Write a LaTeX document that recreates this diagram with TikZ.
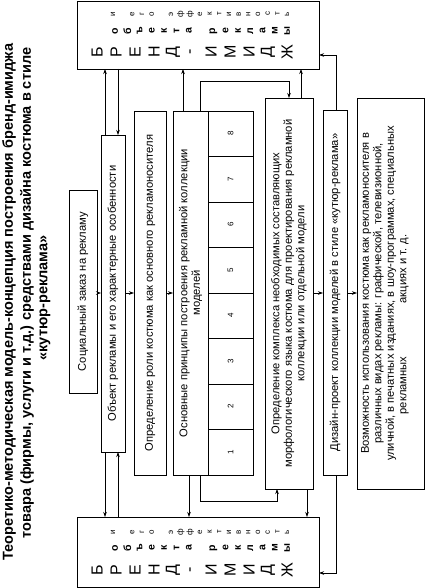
\documentclass[tikz,border=0pt]{standalone}
\usepackage{fontspec}
\setmainfont{Liberation Sans}
\usetikzlibrary{arrows.meta}
\begin{document}
\begin{tikzpicture}[x=1pt,y=-1pt,
  box/.style={draw, line width=0.6pt, inner sep=0pt, outer sep=0pt},
  txt/.style={rotate=90, font=\fontsize{11.2}{12.5}\selectfont, inner sep=0pt, align=center},
  ttl/.style={rotate=90, font=\fontsize{14.5}{17}\selectfont\bfseries, inner sep=0pt},
  bigl/.style={rotate=90, font=\fontsize{16}{17}\selectfont, inner sep=0pt},
  midl/.style={rotate=90, font=\fontsize{10.5}{11}\selectfont\bfseries, inner sep=0pt},
  smll/.style={rotate=90, font=\fontsize{8}{9}\selectfont, inner sep=0pt},
  numl/.style={rotate=90, font=\fontsize{8}{9}\selectfont, inner sep=0pt},
  arr/.style={-{Stealth[length=5pt,width=3.5pt]}, line width=0.6pt}]
\useasboundingbox (0,0) rectangle (425,588);

% title
\node[ttl] (t1) at (9,302) {Теоретико-методическая модель-концепция построения бренд-имиджа};
\node[ttl] (t2) at (27,293) {товара (фирмы, услуги и т.д.) средствами дизайна костюма в стиле};
\node[ttl] (t3) at (45,298) {«кутюр-реклама»};

% brand boxes
\node[box, minimum width=242pt, minimum height=68pt] (brandT) at (198,35) {};
\node[box, minimum width=242pt, minimum height=70pt] (brandB) at (198,552) {};
\foreach \l [count=\i from 0] in {Б,Р,Е,Н,Д,-,И,М,И,Д,Ж} {
  \node[bigl] (bT\i) at (97+19*\i,52) {\l};
  \node[bigl] (bB\i) at (97+19*\i,570) {\l};
}
\foreach \l/\k in {о/0,б/1,ъ/2,е/3,к/4,т/5,а/6,р/8,е/9,к/10,л/11,а/12,м/13,ы/14} {
  \node[midl] (mT\k) at (115+12.3*\k,31) {\l};
  \node[midl] (mB\k) at (115+12.3*\k,548) {\l};
}
\foreach \l/\k in {и/0,е/2,г/3,о/4,э/6,ф/7,ф/8,е/9,к/10,т/11,и/12,в/13,н/14,о/15,с/16,т/17,ь/18} {
  \node[smll] (sT\k) at (113+9.67*\k,14) {\l};
  \node[smll] (sB\k) at (113+9.67*\k,532) {\l};
}

% process boxes
\node[box, minimum width=28pt, minimum height=203pt] (soc) at (83,291.5) {};
\node[txt] (socT) at (soc.center) {Социальный заказ на рекламу};
\node[box, minimum width=24pt, minimum height=317pt] (obj) at (113,293.5) {};
\node[txt] (objT) at (obj.center) {Объект рекламы и его характерные особенности};
\node[box, minimum width=32pt, minimum height=364pt] (rol) at (150,293) {};
\node[txt] (rolT) at (rol.center) {Определение роли костюма как основного рекламоносителя};
\node[box, minimum width=35pt, minimum height=364pt] (osn) at (190.5,293) {};
\node[txt] (osnT) at (osn.center) {Основные принципы построения рекламной коллекции\\моделей};
\foreach \i in {1,...,8} {
  \node[box, minimum width=45pt, minimum height=45.5pt] (c\i) at (230.5,475-45.5*\i+22.75) {};
  \node[numl] (n\i) at (c\i.center) {\i};
}
\node[box, minimum width=48pt, minimum height=391pt] (kom) at (289,293.5) {};
\node[txt] (komT) at (kom.center) {Определение комплекса необходимых составляющих\\морфологического языка костюма для проектирования рекламной\\коллекции или отдельной модели};
\node[box, minimum width=24pt, minimum height=365pt] (diz) at (335,292.5) {};
\node[txt] (dizT) at (diz.center) {Дизайн-проект коллекции моделей в стиле «кутюр-реклама»};
\node[box, minimum width=67pt, minimum height=391pt] (voz) at (390.5,293.5) {};
\node[txt] (vozT) at (385,293.5) {Возможность использования костюма как рекламоносителя в\\различных видах рекламы: графической, телевизионной,\\уличной, в печатных изданиях, в шоу-программах, специальных\\рекламных\hspace{50pt} акциях и т. д.\hspace*{62pt}};

% helper coordinates
\coordinate (xa) at (105,0);
\coordinate (xb) at (118,0);
\coordinate (xc) at (183,0);
\coordinate (xc2) at (189,0);
\coordinate (xd) at (200,0);
\coordinate (xe) at (289,0);
\coordinate (xe2) at (277,0);
\coordinate (xf) at (301,0);
\coordinate (xf2) at (307,0);
\coordinate (xg) at (336,0);
\coordinate (ytop) at (0,81);
\coordinate (ybot) at (0,501);
\coordinate (yd1) at (0,55);
\coordinate (yd2) at (0,573);
\coordinate (yf) at (0,293);

% connectors
\draw[arr] (obj.north -| xa) -- (brandT.south -| xa);
\draw[arr] (brandT.south -| xb) -- (obj.north -| xb);
\draw[arr] (obj.south -| xa) -- (brandB.north -| xa);
\draw[arr] (brandB.north -| xb) -- (obj.south -| xb);
\draw[arr] (osn.north -| xc) -- (brandT.south -| xc);
\draw[arr] (osn.south -| xc2) -- (brandB.north -| xc2);
\draw[arr] (osn.north -| xd) -- (xd |- ytop) -- (xe |- ytop) -- (kom.north -| xe);
\draw[arr] (osn.south -| xd) -- (xd |- ybot) -- (xe2 |- ybot) -- (kom.south -| xe2);
\draw[arr] (kom.north -| xf) -- (brandT.south -| xf);
\draw[arr] (kom.south -| xf2) -- (brandB.north -| xf2);
\draw[arr] (diz.north -| xg) -- (xg |- yd1) -- (brandT.east |- yd1);
\draw[arr] (diz.south -| xg) -- (xg |- yd2) -- (brandB.east |- yd2);

\draw[arr] (soc.east |- yf) -- (obj.west |- yf);
\draw[arr] (obj.east |- yf) -- (rol.west |- yf);
\draw[arr] (rol.east |- yf) -- (osn.west |- yf);
\draw[arr] (kom.east |- yf) -- (diz.west |- yf);
\draw[arr] (diz.east |- yf) -- (voz.west |- yf);
\end{tikzpicture}
\end{document}
